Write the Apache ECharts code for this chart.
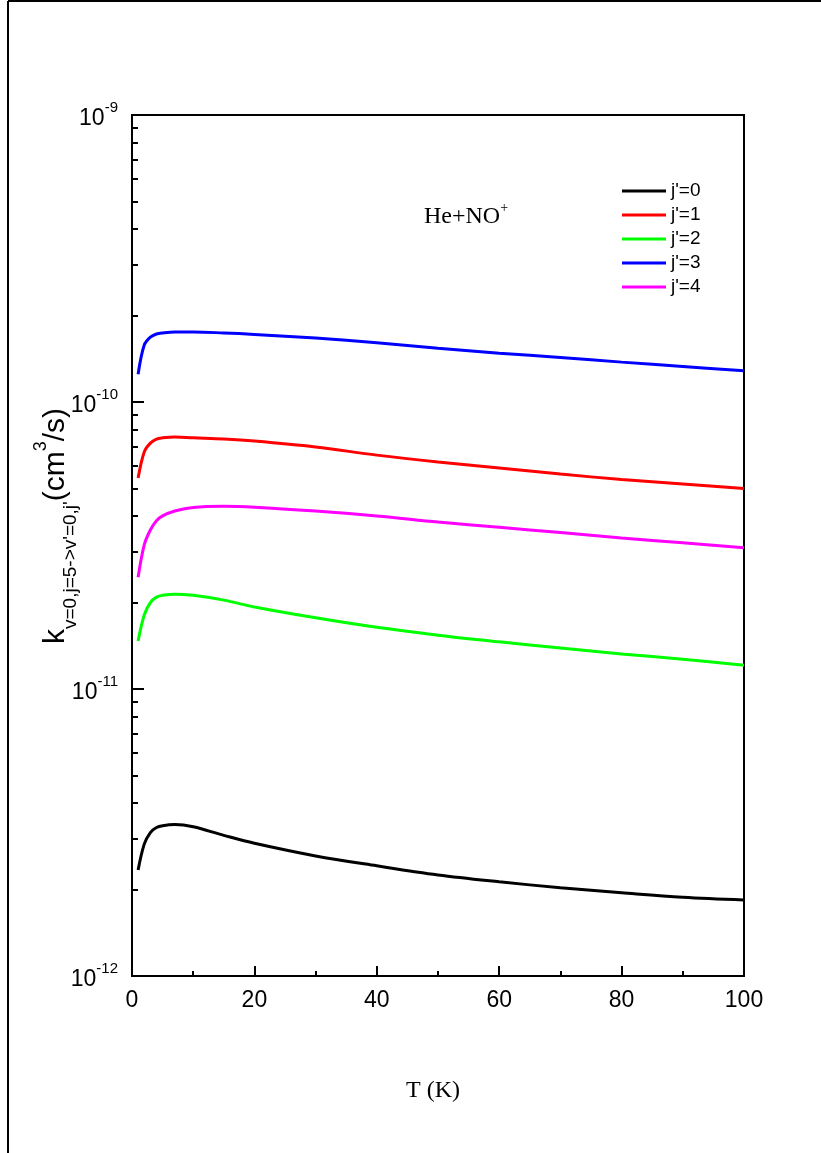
<!DOCTYPE html>
<html>
<head>
<meta charset="utf-8">
<script src="https://cdn.jsdelivr.net/npm/echarts@6/dist/echarts.min.js"></script>
<style>
  html, body { margin: 0; padding: 0; background: #fff; }
  #chart { width: 821px; height: 1153px; }
</style>
</head>
<body>
<div id="chart"></div>
<script>
// Temperatures (K) at which the rate coefficients are sampled
const temperatures = [1, 2, 3, 4, 5, 7, 10, 15, 20, 30, 40, 50, 60, 70, 80, 90, 100];

// Rate coefficients k(v=0,j=5 -> v'=0,j') in cm^3/s
const rateJ0 = [2.34e-12, 2.88e-12, 3.16e-12, 3.29e-12, 3.34e-12, 3.37e-12, 3.31e-12, 3.09e-12, 2.90e-12, 2.62e-12, 2.42e-12, 2.25e-12, 2.13e-12, 2.03e-12, 1.95e-12, 1.88e-12, 1.84e-12];
const rateJ1 = [5.43e-11, 6.70e-11, 7.19e-11, 7.43e-11, 7.50e-11, 7.55e-11, 7.50e-11, 7.43e-11, 7.31e-11, 6.97e-11, 6.53e-11, 6.18e-11, 5.89e-11, 5.61e-11, 5.37e-11, 5.18e-11, 5.00e-11];
const rateJ2 = [1.47e-11, 1.81e-11, 2.00e-11, 2.09e-11, 2.12e-11, 2.14e-11, 2.12e-11, 2.04e-11, 1.93e-11, 1.77e-11, 1.64e-11, 1.54e-11, 1.46e-11, 1.39e-11, 1.325e-11, 1.27e-11, 1.21e-11];
const rateJ3 = [1.25e-10, 1.58e-10, 1.683e-10, 1.725e-10, 1.74e-10, 1.754e-10, 1.754e-10, 1.74e-10, 1.72e-10, 1.67e-10, 1.61e-10, 1.54e-10, 1.48e-10, 1.43e-10, 1.377e-10, 1.33e-10, 1.285e-10];
const rateJ4 = [2.45e-11, 3.18e-11, 3.58e-11, 3.86e-11, 4.01e-11, 4.17e-11, 4.29e-11, 4.33e-11, 4.30e-11, 4.17e-11, 4.01e-11, 3.82e-11, 3.66e-11, 3.51e-11, 3.36e-11, 3.23e-11, 3.105e-11];

const seriesNames = ["j'=0", "j'=1", "j'=2", "j'=3", "j'=4"];
const seriesColors = ['#000000', '#ff0000', '#00ff00', '#0000ff', '#ff00ff'];
const seriesValues = [rateJ0, rateJ1, rateJ2, rateJ3, rateJ4];

// Axis ranges
const xRange = [0, 100];
const xStep = 20;
const yRange = [1e-12, 1e-9];

// Major (decade) and minor (2..9 per decade) ticks of the log axis
const majorLogTicks = [1e-12, 1e-11, 1e-10, 1e-9];
const minorLogTicks = [];
for (let e = -12; e <= -10; e++) {
  for (let k = 2; k <= 9; k++) {
    minorLogTicks.push(Number((k * Math.pow(10, e)).toPrecision(3)));
  }
}

const chart = echarts.init(document.getElementById('chart'), null, { renderer: 'canvas' });

const sansFont = '"Liberation Sans", Arial, sans-serif';
const serifFont = '"Liberation Serif", "Times New Roman", serif';

const series = seriesNames.map((name, i) => ({
  name: name,
  type: 'line',
  xAxisIndex: 0,
  yAxisIndex: 0,
  data: temperatures.map((t, j) => [t, seriesValues[i][j]]),
  symbol: 'none',
  smooth: 0.35,
  sampling: null,
  lineStyle: { color: seriesColors[i], width: 3 },
  itemStyle: { color: seriesColors[i] },
  z: 3
}));

const option = {
  animation: false,
  backgroundColor: '#ffffff',
  grid: {
    left: 132, right: 77, top: 115, bottom: 177,
    show: true, borderColor: '#000', borderWidth: 2, backgroundColor: 'transparent'
  },
  legend: {
    data: seriesNames,
    orient: 'vertical',
    left: 617,
    top: 174,
    icon: 'rect',
    itemWidth: 44,
    itemHeight: 3,
    itemGap: 0,
    textStyle: { fontFamily: sansFont, fontSize: 19, color: '#000', lineHeight: 24 }
  },
  xAxis: {
    type: 'value',
    min: xRange[0], max: xRange[1], interval: xStep,
    axisLine: { show: true, lineStyle: { color: '#000', width: 2 } },
    axisTick: { show: true, inside: true, length: 10, lineStyle: { color: '#000', width: 2 } },
    minorTick: { show: true, splitNumber: 2, length: 5, lineStyle: { color: '#000', width: 2 } },
    splitLine: { show: false },
    axisLabel: { fontFamily: sansFont, fontSize: 23, color: '#000', margin: 13 }
  },
  yAxis: [
    {
      type: 'log', logBase: 10,
      min: yRange[0], max: yRange[1],
      axisLine: { show: true, lineStyle: { color: '#000', width: 2 } },
      axisTick: { show: true, inside: true, length: 12, customValues: majorLogTicks, lineStyle: { color: '#000', width: 2 } },
      splitLine: { show: false },
      axisLabel: {
        margin: 14,
        customValues: majorLogTicks,
        formatter: function (v) {
          const e = Math.round(Math.log10(v));
          return '{b|10}{s|' + e + '}';
        },
        rich: {
          b: { fontFamily: sansFont, fontSize: 23, color: '#000', verticalAlign: 'bottom', lineHeight: 30 },
          s: { fontFamily: sansFont, fontSize: 15, color: '#000', verticalAlign: 'top', lineHeight: 30 }
        }
      }
    },
    {
      type: 'log', logBase: 10,
      min: yRange[0], max: yRange[1],
      position: 'left',
      axisLine: { show: false },
      axisLabel: { show: false },
      splitLine: { show: false },
      axisTick: {
        show: true, inside: true, length: 6,
        customValues: minorLogTicks,
        lineStyle: { color: '#000', width: 2 }
      }
    }
  ],
  series: series,
  graphic: [
    // page frame
    { type: 'line', shape: { x1: 8, y1: 1, x2: 821, y2: 1 }, style: { stroke: '#000', lineWidth: 2 }, z: 10 },
    { type: 'line', shape: { x1: 8, y1: 1, x2: 8, y2: 1153 }, style: { stroke: '#000', lineWidth: 2 }, z: 10 },
    // system label
    {
      type: 'text', left: 424, top: 201, z: 10,
      style: {
        text: '{n|He+NO}{p|+}',
        rich: {
          n: { fontFamily: serifFont, fontSize: 24, fill: '#000', verticalAlign: 'bottom', lineHeight: 28 },
          p: { fontFamily: serifFont, fontSize: 14, fill: '#000', verticalAlign: 'top', lineHeight: 28 }
        }
      }
    },
    // x-axis title
    {
      type: 'text', x: 433, y: 1091, z: 10,
      style: { text: 'T (K)', fontFamily: serifFont, fontSize: 24, fill: '#000', align: 'center', verticalAlign: 'middle' }
    },
    // y-axis title
    {
      type: 'text', x: 56, y: 526, rotation: Math.PI / 2, z: 10,
      style: {
        text: '{m|k}{sub|v=0,j=5->v\'=0,j\'}{m|(cm}{sup|3}{m|/s)}',
        align: 'center', verticalAlign: 'middle',
        rich: {
          m: { fontFamily: sansFont, fontSize: 30, fill: '#000', verticalAlign: 'middle', lineHeight: 48 },
          sub: { fontFamily: sansFont, fontSize: 19, fill: '#000', verticalAlign: 'bottom', lineHeight: 48 },
          sup: { fontFamily: sansFont, fontSize: 18, fill: '#000', verticalAlign: 'top', lineHeight: 48 }
        }
      }
    }
  ]
};

chart.setOption(option);
</script>
</body>
</html>
